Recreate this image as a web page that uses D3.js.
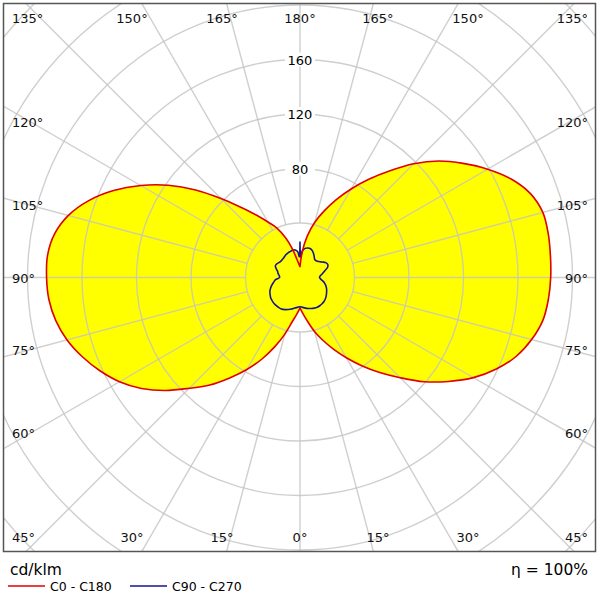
<!DOCTYPE html>
<html><head><meta charset="utf-8">
<script src="https://cdn.jsdelivr.net/npm/d3@7"></script>
<style>body{margin:0;background:#fff}svg{display:block}text{font-family:"DejaVu Sans",Verdana,sans-serif}</style>
</head><body><svg id="c" width="600" height="600"></svg>
<script>
// gamma angles (deg, 0 = down, 180 = up)
const gammaRed = [0,5,10,15,20,25,30,35,40,45,50,55,60,65,70,75,80,85,90,95,100,105,110,115,120,125,130,135,140,145,150,155,160,165,170,175,180];
// C0 (right half) and C180 (left half), cd/klm
const c0   = [22.5,27,33,41,49,58,68,79,91,104,119,133,147,159,169,176,181,183,184,184.5,185,184.5,180,171,159,146,133,118,102,88,75,63,52,42,31,19,8];
const c180 = [22.5,27,33,43,54,66,78,90,103,115,129,142,153,162,170,177,182,185,186,186,183,176,165,151,135,118,100,82,67,56,47,40,31,22,14,10,8];
const gammaBlue = [0,5,10,15,20,25,30,35,40,45,50,55,60,65,70,75,80,85,90,95,100,105,110,115,120,125,130,135,140,145,150,155,160,165,170,175,178,180];
// C90 (right half) and C270 (left half)
const c90  = [21.4,22,22.8,23.5,24.2,24.8,25.2,25.3,25.2,24.9,24.3,23.5,22.5,21.6,20.5,19.2,17.5,15.5,14.3,15,16.8,18.8,21.5,22.5,21.8,19.8,18.2,17.2,17,18.3,20,21.6,22.5,22.4,21.7,19.5,15,26];
const c270 = [21.4,22,22.8,24,25,26,26.8,27,27,26.9,26.6,26.2,25.3,24.4,23,21.4,19.6,18,15,15.3,16.3,17,18.5,20,19.8,19,18.5,18.5,18.7,19.3,19.8,20.2,20.4,20.8,20.5,19,15,26];
const ringValues = [40,80,120,160,200,240,280,320];
const ringLabels = ["80","120","160"];
const spokeAngles = d3.range(0,360,15);
const topLabels = [{a:135,t:"135°"},{a:150,t:"150°"},{a:165,t:"165°"},{a:180,t:"180°"},{a:165,t:"165°",s:1},{a:150,t:"150°",s:1},{a:135,t:"135°",s:1}];
const bottomLabels = [{a:45,t:"45°"},{a:30,t:"30°"},{a:15,t:"15°"},{a:0,t:"0°"},{a:15,t:"15°",s:1},{a:30,t:"30°",s:1},{a:45,t:"45°",s:1}];
const sideLabels = ["120°","105°","90°","75°","60°"];
const sideAngles = [120,105,90,75,60];
const unitLabel = "cd/klm";
const etaLabel = "η = 100%";
const legendNames = ["C0 - C180","C90 - C270"];

const svg = d3.select("#c");
const cx = 300, cy = 277.5;
const r = d3.scaleLinear().domain([0,200]).range([0,272.5]);
const frame = {x:3.5,y:3.5,w:592,h:548};
const RED = "#e00000", BLUE = "#16168f";

svg.append("defs").append("clipPath").attr("id","fr").append("rect")
  .attr("x",frame.x).attr("y",frame.y).attr("width",frame.w).attr("height",frame.h);

function pt(g, v, side){ const a = g*Math.PI/180; return [cx + side*r(v)*Math.sin(a), cy + r(v)*Math.cos(a)]; }
const lineGen = d3.line().curve(d3.curveCatmullRom.alpha(0.5));
function lobePath(gam, right, left){
  const R = gam.map((g,i)=>pt(g,right[i],1));
  const L = gam.map((g,i)=>pt(g,left[i],-1)).reverse();
  return lineGen(R) + lineGen(L).replace(/^M/,"L") + "Z";
}
const redD = lobePath(gammaRed, c0, c180);
const blueD = lobePath(gammaBlue, c90, c270);

const plot = svg.append("g").attr("clip-path","url(#fr)");
plot.append("path").attr("d",redD).attr("fill","#ffff00");
plot.append("path").attr("d",blueD).attr("fill","#ffff00");

const grid = plot.append("g").attr("stroke","rgb(195,195,195)").attr("stroke-opacity",0.8).attr("stroke-width",1.4).attr("fill","none");
grid.selectAll("circle").data(ringValues).join("circle").attr("cx",cx).attr("cy",cy).attr("r",d=>r(d));
grid.selectAll("line").data(spokeAngles).join("line")
  .attr("x1",d=>pt(d,40,1)[0]).attr("y1",d=>pt(d,40,1)[1])
  .attr("x2",d=>pt(d,420,1)[0]).attr("y2",d=>pt(d,420,1)[1]);

// ring labels with white background
const rl = svg.append("g");
ringLabels.forEach(t=>{
  const y = cy - r(+t);
  rl.append("rect").attr("x",cx-15).attr("y",y-7).attr("width",30).attr("height",14).attr("fill","#fff");
  rl.append("text").attr("x",cx).attr("y",y+5).attr("text-anchor","middle").attr("font-size",13).text(t);
});

plot.append("path").attr("d",blueD).attr("fill","none").attr("stroke",BLUE).attr("stroke-width",1.6).attr("stroke-linejoin","round");
plot.append("path").attr("d",redD).attr("fill","none").attr("stroke",RED).attr("stroke-width",1.6).attr("stroke-linejoin","round");

// frame
svg.append("rect").attr("x",frame.x).attr("y",frame.y).attr("width",frame.w).attr("height",frame.h)
  .attr("fill","none").attr("stroke","#555").attr("stroke-width",1.5);

// angle labels
const lab = svg.append("g").attr("font-size",13).attr("fill","#111");
function hLab(d, y){
  const off = Math.abs(180 - d.a) < 90 ? (180-d.a) : d.a;
  const dx = 291*Math.tan(off*Math.PI/180);
  let x = cx + (d.s?1:-1)*dx, anchor = "middle";
  if (off >= 45){ x = d.s ? 588 : 12; anchor = d.s ? "end" : "start"; }
  lab.append("text").attr("x",x).attr("y",y).attr("text-anchor",anchor).text(d.t);
}
topLabels.forEach(d=>hLab(d,22.7));
bottomLabels.forEach(d=>hLab(d,541.7));
sideAngles.forEach((a,i)=>{
  const y = cy - 270*Math.tan((a-90)*Math.PI/180) + 5;
  lab.append("text").attr("x",12).attr("y",y).text(sideLabels[i]);
  lab.append("text").attr("x",588).attr("y",y).attr("text-anchor","end").text(sideLabels[i]);
});

// legend
svg.append("text").attr("x",10).attr("y",575).attr("font-size",15.5).text(unitLabel);
svg.append("text").attr("x",588).attr("y",575).attr("text-anchor","end").attr("font-size",15.5).text(etaLabel);
const lc = [RED,BLUE], lx = [8,130];
legendNames.forEach((n,i)=>{
  svg.append("line").attr("x1",lx[i]).attr("x2",lx[i]+37).attr("y1",586).attr("y2",586).attr("stroke",lc[i]).attr("stroke-width",1.5);
  svg.append("text").attr("x",lx[i]+42).attr("y",591).attr("font-size",12.5).text(n);
});
</script></body></html>
